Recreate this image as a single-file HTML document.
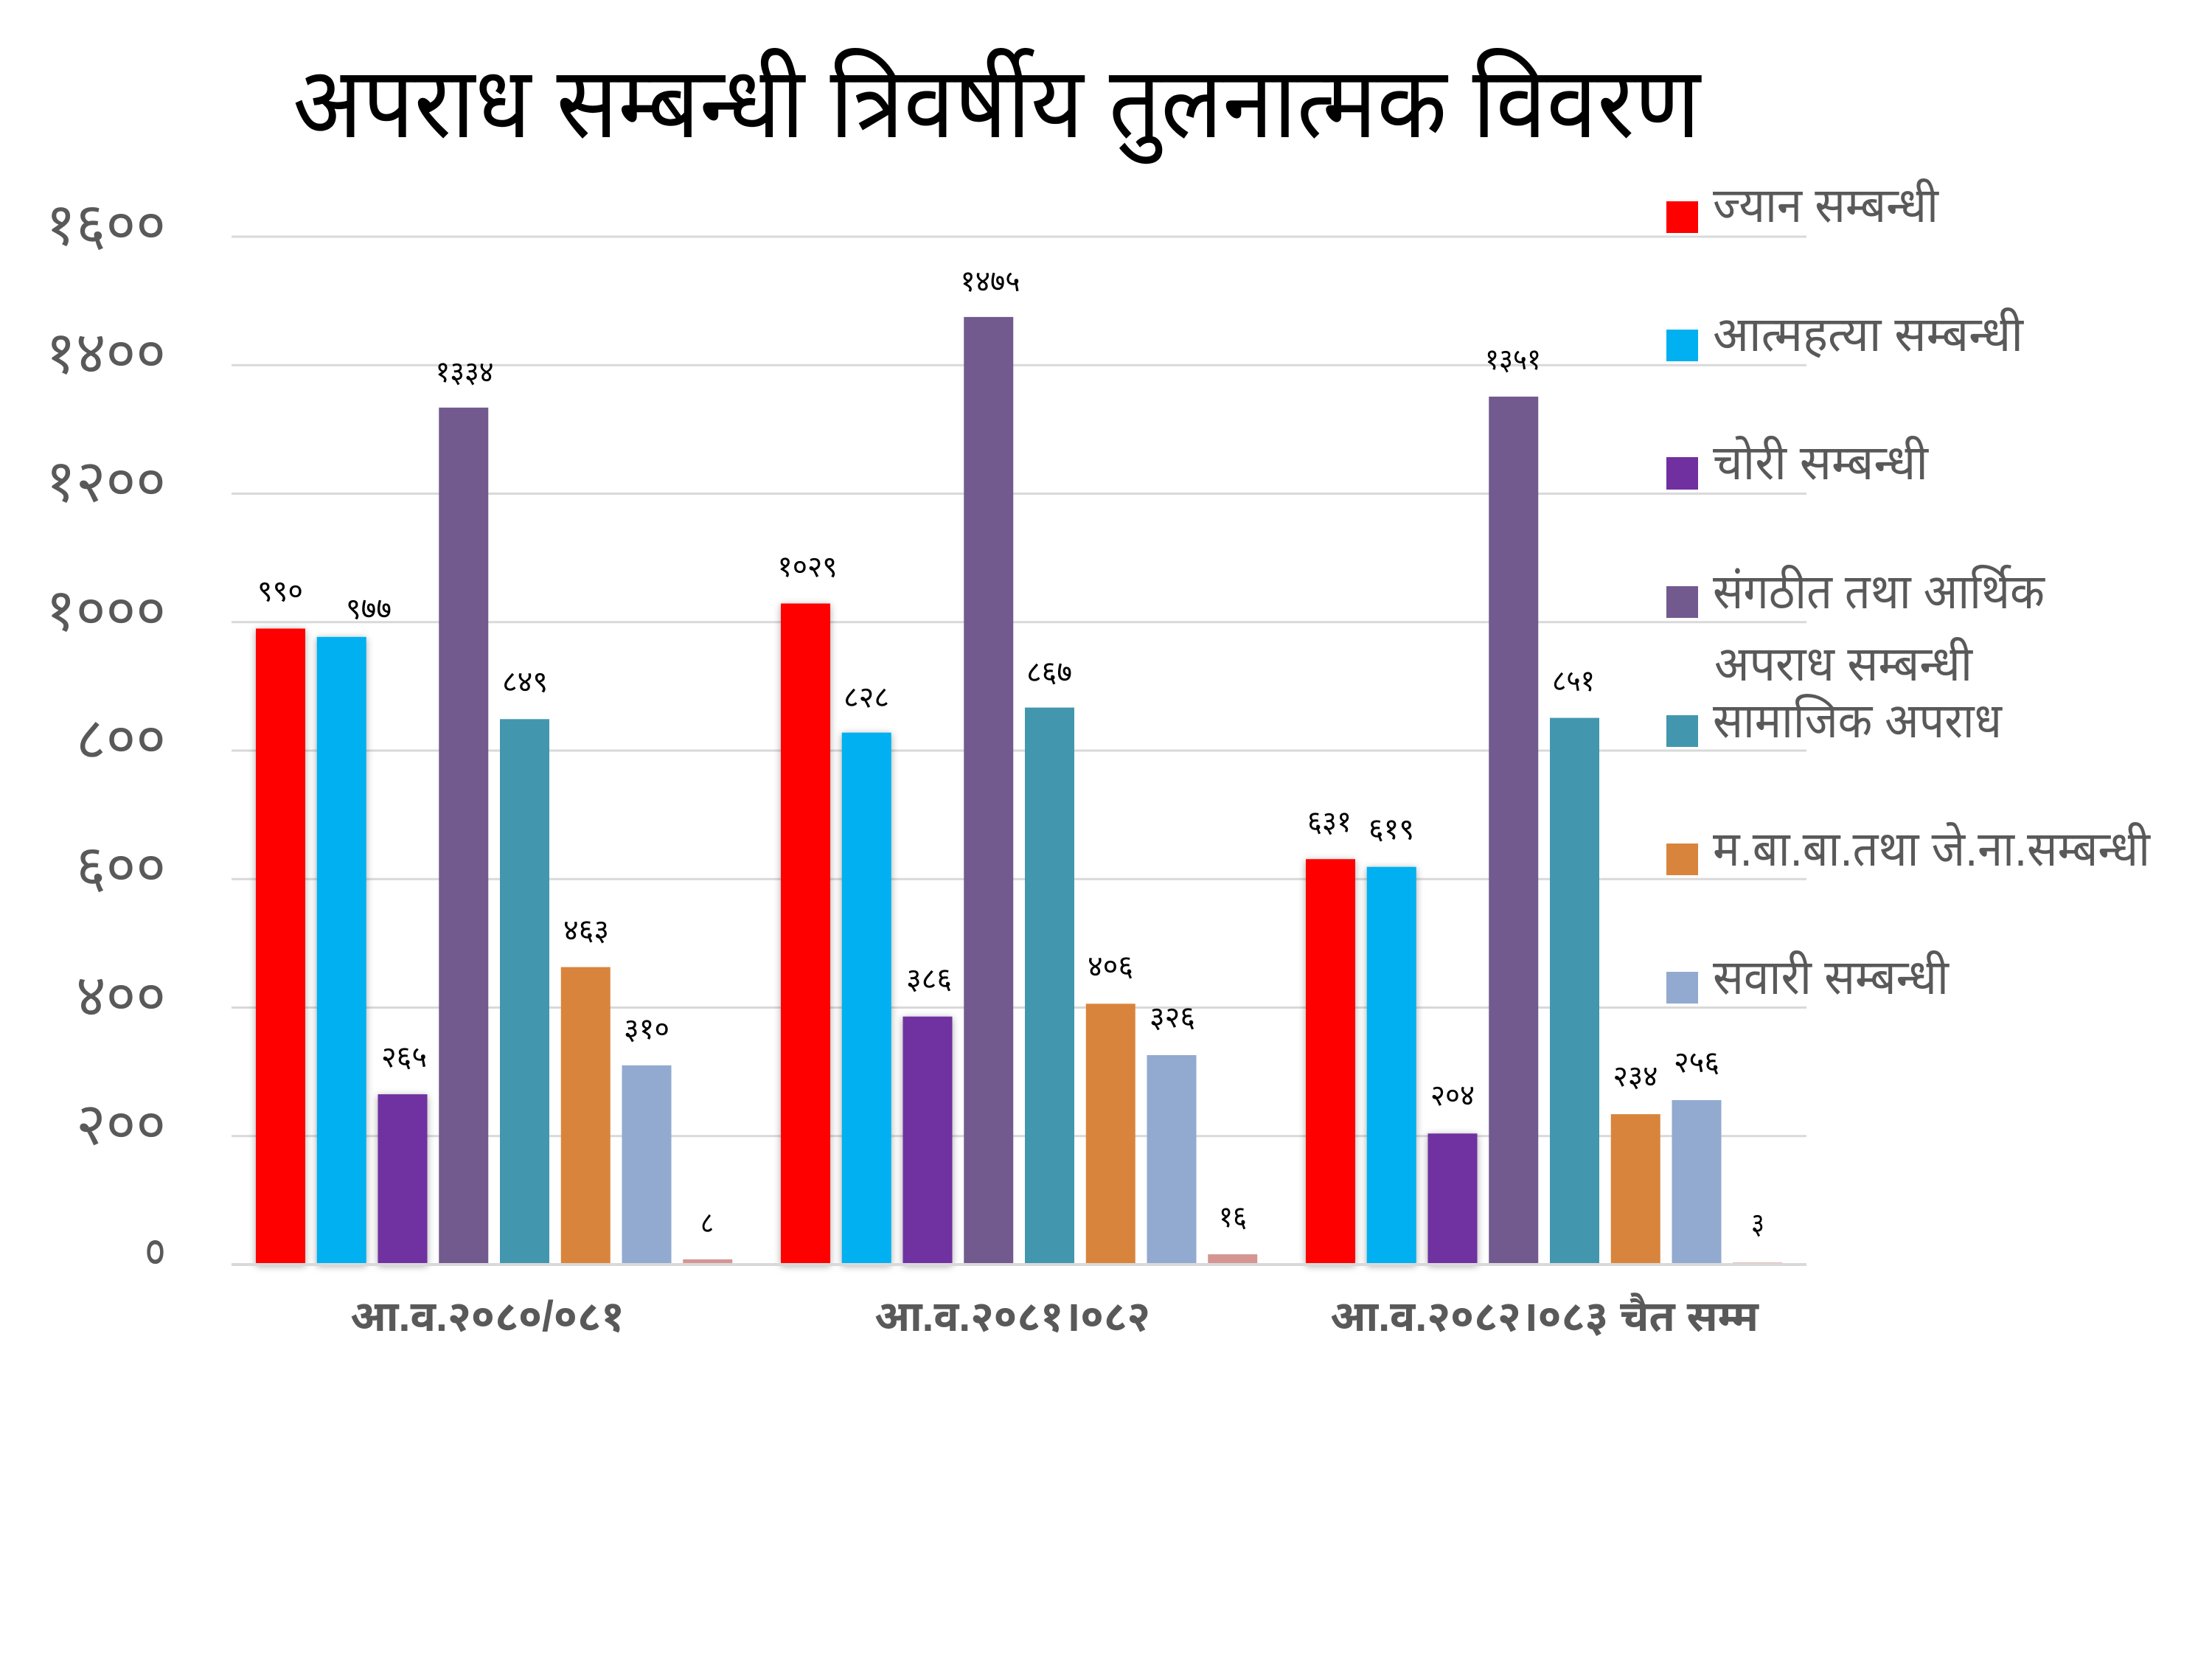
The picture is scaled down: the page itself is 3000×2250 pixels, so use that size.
<!DOCTYPE html>
<html>
<head>
<meta charset="utf-8">
<style>
  html, body { margin:0; padding:0; background:#ffffff; }
  body { width:3000px; height:2250px; overflow:hidden; }
  svg { display:block; }
  .dev { font-family: "Liberation Sans", "Noto Sans Devanagari", "Lohit Devanagari", "Kokila", "Mangal", "FreeSans", "Noto Sans CJK SC", sans-serif; }
</style>
</head>
<body>
<svg width="3000" height="2250" viewBox="0 0 3000 2250" xmlns="http://www.w3.org/2000/svg" class="dev">
  <defs>
    <filter id="sh" x="-30%" y="-5%" width="160%" height="110%">
      <feDropShadow dx="0" dy="2" stdDeviation="5" flood-color="#000000" flood-opacity="0.35"/>
    </filter>
  </defs>
  <rect x="0" y="0" width="3000" height="2250" fill="#ffffff"/>

  <!-- Title -->
  <text x="397" y="186" font-size="135" fill="#000000" textLength="1909" lengthAdjust="spacingAndGlyphs">अपराध सम्बन्धी त्रिवर्षीय तुलनात्मक विवरण</text>

  <!-- Gridlines -->
  <g stroke="#d9d9d9" stroke-width="3">
    <line x1="314" y1="321" x2="2450" y2="321"/>
    <line x1="314" y1="495.25" x2="2450" y2="495.25"/>
    <line x1="314" y1="669.5" x2="2450" y2="669.5"/>
    <line x1="314" y1="843.75" x2="2450" y2="843.75"/>
    <line x1="314" y1="1018" x2="2450" y2="1018"/>
    <line x1="314" y1="1192.25" x2="2450" y2="1192.25"/>
    <line x1="314" y1="1366.5" x2="2450" y2="1366.5"/>
    <line x1="314" y1="1540.75" x2="2450" y2="1540.75"/>
  </g>

  <!-- Y axis labels -->
  <g fill="#595959" font-size="80" text-anchor="end">
    <text x="225" y="332" textLength="163" lengthAdjust="spacingAndGlyphs">१६००</text>
    <text x="225" y="506" textLength="163" lengthAdjust="spacingAndGlyphs">१४००</text>
    <text x="225" y="680" textLength="163" lengthAdjust="spacingAndGlyphs">१२००</text>
    <text x="225" y="855" textLength="163" lengthAdjust="spacingAndGlyphs">१०००</text>
    <text x="225" y="1029" textLength="122" lengthAdjust="spacingAndGlyphs">८००</text>
    <text x="225" y="1203" textLength="122" lengthAdjust="spacingAndGlyphs">६००</text>
    <text x="225" y="1378" textLength="122" lengthAdjust="spacingAndGlyphs">४००</text>
    <text x="225" y="1552" textLength="122" lengthAdjust="spacingAndGlyphs">२००</text>
    <text x="225" y="1724" textLength="29" lengthAdjust="spacingAndGlyphs">०</text>
  </g>

  <!-- Bars with shadow (first three series) -->
  <g filter="url(#sh)">
    <rect x="347" y="852.5" width="67" height="862.5" fill="#FF0000"/>
    <rect x="429.75" y="863.8" width="67" height="851.2" fill="#00B0F0"/>
    <rect x="512.5" y="1484.1" width="67" height="230.9" fill="#7030A0"/>
    <rect x="1059" y="818.5" width="67" height="896.5" fill="#FF0000"/>
    <rect x="1141.75" y="993.6" width="67" height="721.4" fill="#00B0F0"/>
    <rect x="1224.5" y="1378.7" width="67" height="336.3" fill="#7030A0"/>
    <rect x="1771" y="1165.2" width="67" height="549.8" fill="#FF0000"/>
    <rect x="1853.75" y="1175.7" width="67" height="539.3" fill="#00B0F0"/>
    <rect x="1936.5" y="1537.3" width="67" height="177.7" fill="#7030A0"/>
  </g>

  <!-- Other bars -->
  <g>
    <rect x="595.25" y="552.8" width="67" height="1162.2" fill="#725A8F"/>
    <rect x="678" y="975.3" width="67" height="739.7" fill="#4297AE"/>
    <rect x="760.75" y="1311.6" width="67" height="403.4" fill="#D9843C"/>
    <rect x="843.5" y="1444.9" width="67" height="270.1" fill="#92AAD0"/>
    <rect x="926.25" y="1708" width="67" height="7" fill="#D59593"/>

    <rect x="1307.25" y="429.9" width="67" height="1285.1" fill="#725A8F"/>
    <rect x="1390" y="959.6" width="67" height="755.4" fill="#4297AE"/>
    <rect x="1472.75" y="1361.3" width="67" height="353.7" fill="#D9843C"/>
    <rect x="1555.5" y="1431" width="67" height="284" fill="#92AAD0"/>
    <rect x="1638.25" y="1701.1" width="67" height="13.9" fill="#D59593"/>

    <rect x="2019.25" y="537.9" width="67" height="1177.1" fill="#725A8F"/>
    <rect x="2102" y="973.6" width="67" height="741.4" fill="#4297AE"/>
    <rect x="2184.75" y="1511.1" width="67" height="203.9" fill="#D9843C"/>
    <rect x="2267.5" y="1492" width="67" height="223" fill="#92AAD0"/>
    <rect x="2350.25" y="1712.4" width="67" height="2.6" fill="#D59593"/>
  </g>

  <!-- Zero axis -->
  <line x1="314" y1="1715" x2="2450" y2="1715" stroke="#d9d9d9" stroke-width="4"/>

  <!-- Data labels -->
  <g fill="#000000" font-size="40" text-anchor="middle">
    <text x="380" y="815" textLength="62" lengthAdjust="spacingAndGlyphs">९९०</text>
    <text x="500" y="839" textLength="62" lengthAdjust="spacingAndGlyphs">९७७</text>
    <text x="548" y="1447" textLength="62" lengthAdjust="spacingAndGlyphs">२६५</text>
    <text x="630" y="518" textLength="79" lengthAdjust="spacingAndGlyphs">१३३४</text>
    <text x="712" y="938" textLength="62" lengthAdjust="spacingAndGlyphs">८४९</text>
    <text x="795" y="1275" textLength="62" lengthAdjust="spacingAndGlyphs">४६३</text>
    <text x="877" y="1409" textLength="62" lengthAdjust="spacingAndGlyphs">३१०</text>
    <text x="959" y="1672" textLength="18" lengthAdjust="spacingAndGlyphs">८</text>

    <text x="1095" y="782" textLength="81" lengthAdjust="spacingAndGlyphs">१०२९</text>
    <text x="1175" y="959" textLength="62" lengthAdjust="spacingAndGlyphs">८२८</text>
    <text x="1260" y="1341" textLength="62" lengthAdjust="spacingAndGlyphs">३८६</text>
    <text x="1343" y="395" textLength="81" lengthAdjust="spacingAndGlyphs">१४७५</text>
    <text x="1423" y="925" textLength="62" lengthAdjust="spacingAndGlyphs">८६७</text>
    <text x="1506" y="1324" textLength="62" lengthAdjust="spacingAndGlyphs">४०६</text>
    <text x="1590" y="1393" textLength="62" lengthAdjust="spacingAndGlyphs">३२६</text>
    <text x="1672" y="1664" textLength="38" lengthAdjust="spacingAndGlyphs">१६</text>

    <text x="1803" y="1128" textLength="60" lengthAdjust="spacingAndGlyphs">६३१</text>
    <text x="1887" y="1138" textLength="62" lengthAdjust="spacingAndGlyphs">६१९</text>
    <text x="1970" y="1499" textLength="60" lengthAdjust="spacingAndGlyphs">२०४</text>
    <text x="2052" y="501" textLength="76" lengthAdjust="spacingAndGlyphs">१३५१</text>
    <text x="2134" y="937" textLength="58" lengthAdjust="spacingAndGlyphs">८५१</text>
    <text x="2218" y="1473" textLength="61" lengthAdjust="spacingAndGlyphs">२३४</text>
    <text x="2301" y="1454" textLength="62" lengthAdjust="spacingAndGlyphs">२५६</text>
    <text x="2384" y="1673" textLength="18" lengthAdjust="spacingAndGlyphs">३</text>
  </g>

  <!-- Category labels -->
  <g fill="#595959" font-size="58" font-weight="bold">
    <text x="475" y="1805" textLength="372" lengthAdjust="spacingAndGlyphs">आ.व.२०८०/०८१</text>
    <text x="1186" y="1805" textLength="374" lengthAdjust="spacingAndGlyphs">आ.व.२०८१।०८२</text>
    <text x="1804" y="1805" textLength="581" lengthAdjust="spacingAndGlyphs">आ.व.२०८२।०८३ चैत सम्म</text>
  </g>

  <!-- Legend -->
  <g>
    <rect x="2260" y="273" width="43" height="43" fill="#FF0000"/>
    <rect x="2260" y="447" width="43" height="43" fill="#00B0F0"/>
    <rect x="2260" y="620" width="43" height="44" fill="#7030A0"/>
    <rect x="2260" y="795" width="43" height="43" fill="#725A8F"/>
    <rect x="2260" y="970" width="43" height="43" fill="#4297AE"/>
    <rect x="2260" y="1144" width="43" height="43" fill="#D9843C"/>
    <rect x="2260" y="1318" width="43" height="43" fill="#92AAD0"/>
  </g>
  <g fill="#595959" font-size="66">
    <text x="2323" y="301" textLength="306" lengthAdjust="spacingAndGlyphs">ज्यान सम्बन्धी</text>
    <text x="2323" y="476" textLength="421" lengthAdjust="spacingAndGlyphs">आत्महत्या सम्बन्धी</text>
    <text x="2323" y="650" textLength="292" lengthAdjust="spacingAndGlyphs">चोरी सम्बन्धी</text>
    <text x="2323" y="825" textLength="450" lengthAdjust="spacingAndGlyphs">संगठीत तथा आर्थिक</text>
    <text x="2325" y="923" textLength="350" lengthAdjust="spacingAndGlyphs">अपराध सम्बन्धी</text>
    <text x="2323" y="1000" textLength="392" lengthAdjust="spacingAndGlyphs">सामाजिक अपराध</text>
    <text x="2323" y="1174" textLength="593" lengthAdjust="spacingAndGlyphs">म.बा.बा.तथा जे.ना.सम्बन्धी</text>
    <text x="2323" y="1348" textLength="320" lengthAdjust="spacingAndGlyphs">सवारी सम्बन्धी</text>
  </g>
</svg>
</body>
</html>
